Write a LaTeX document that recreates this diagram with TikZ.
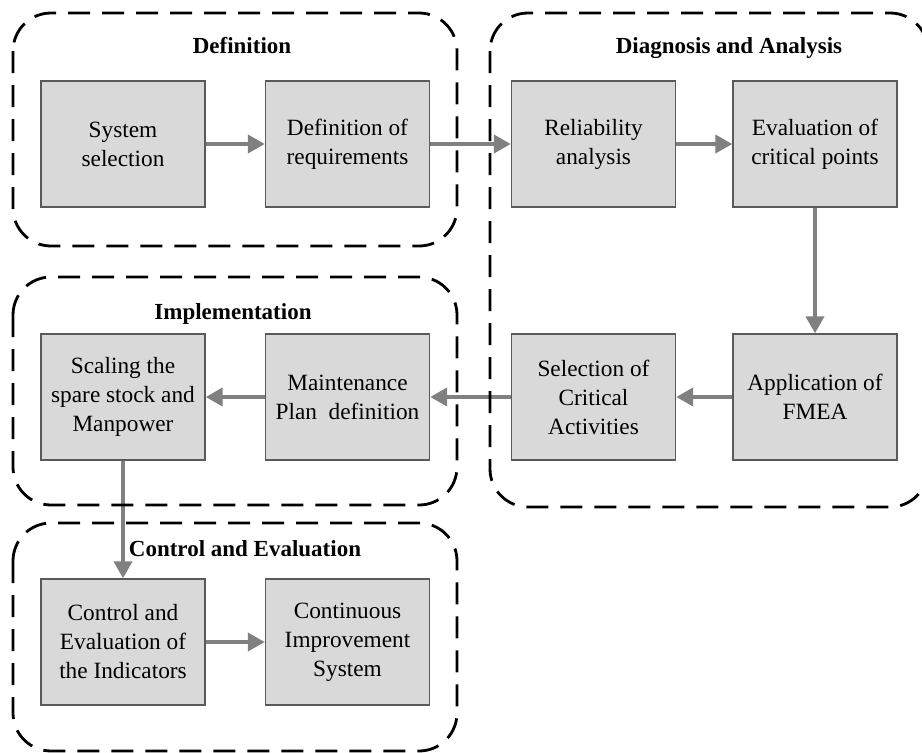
\documentclass[tikz,border=0pt]{standalone}
\usepackage{fontspec}
\setmainfont{Liberation Serif}
\usetikzlibrary{arrows.meta}
\definecolor{boxfill}{HTML}{D9D9D9}
\definecolor{boxline}{HTML}{5A5A5A}
\definecolor{flow}{HTML}{808080}
\begin{document}
\begin{tikzpicture}[x=1pt,y=-1pt,
  stepbox/.style={draw=boxline, line width=1.4pt, fill=boxfill,
    minimum width=164pt, minimum height=126pt, inner sep=0pt,
    align=center, font=\fontsize{23.3}{29}\selectfont},
  phase/.style={draw=black, line width=2.8pt, dash pattern=on 22pt off 12pt,
    rounded corners=38pt},
  phasetitle/.style={anchor=base, inner sep=0pt,
    font=\fontsize{23}{27}\selectfont\bfseries},
  flowarrow/.style={draw=flow, line width=4pt,
    -{Triangle[length=17pt,width=18pt]}}]

% page frame
\fill[white] (0,0) rectangle (922,753);
\clip (0,0) rectangle (922,753);

% process steps
\node[stepbox] (sys)  at (123,144)   {System\\selection};
\node[stepbox] (req)  at (347.5,144) {Definition of\\requirements};
\node[stepbox] (rel)  at (593.5,144) {Reliability\\analysis};
\node[stepbox] (evl)  at (815,144)   {Evaluation of\\critical points};
\node[stepbox] (fmea) at (815,397)   {Application of\\FMEA};
\node[stepbox] (sel)  at (593.5,397) {Selection of\\Critical\\Activities};
\node[stepbox] (mnt)  at (347.5,397) {Maintenance\\Plan~~definition};
\node[stepbox] (scl)  at (123,397)   {Scaling the\\spare stock and\\Manpower};
\node[stepbox] (ctl)  at (123,642)   {Control and\\Evaluation of\\the Indicators};
\node[stepbox] (cip)  at (347.5,642) {Continuous\\Improvement\\System};

% flow between steps
\draw[flowarrow] (sys) -- (req);
\draw[flowarrow] (req) -- (rel);
\draw[flowarrow] (rel) -- (evl);
\draw[flowarrow] (evl) -- (fmea);
\draw[flowarrow] (fmea) -- (sel);
\draw[flowarrow] (sel) -- (mnt);
\draw[flowarrow] (mnt) -- (scl);
\draw[flowarrow] (scl) -- (ctl);
\draw[flowarrow] (ctl) -- (cip);

% phase frames
\draw[phase] (13,13)  rectangle (457,246);
\draw[phase] (490,13) rectangle (928,507);
\draw[phase] (13,277) rectangle (457,505);
\draw[phase] (13,523) rectangle (457,751);

% phase titles
\node[phasetitle] (tdef) at (242,53)  {Definition};
\node[phasetitle] (tdia) at (729,53)  {Diagnosis and Analysis};
\node[phasetitle] (timp) at (233,319) {Implementation};
\node[phasetitle] (tctl) at (245,556) {Control and Evaluation};
\end{tikzpicture}
\end{document}
